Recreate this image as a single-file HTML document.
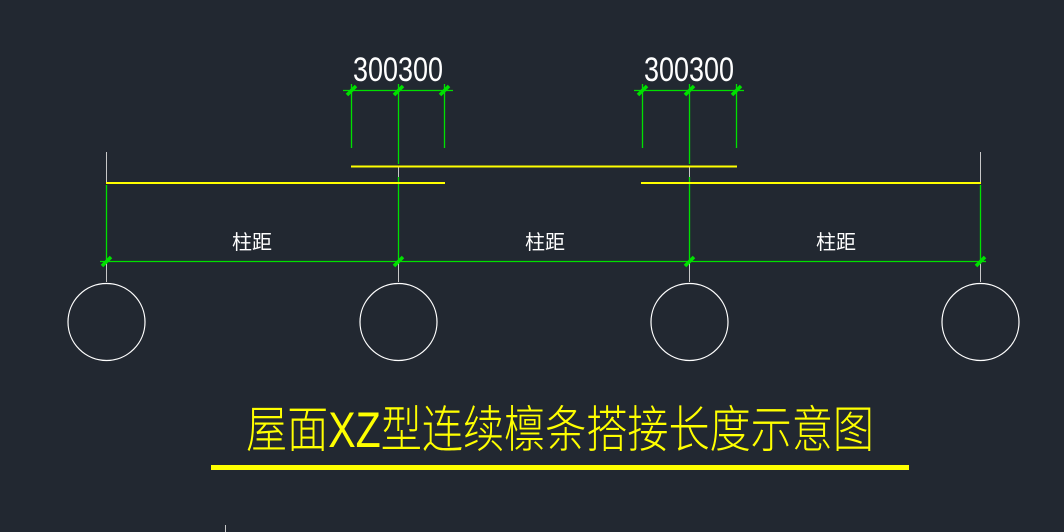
<!DOCTYPE html>
<html><head><meta charset="utf-8"><style>
html,body{margin:0;padding:0;background:#222831;}
svg{display:block}
text{font-family:"Liberation Sans","Noto Sans CJK SC",sans-serif;}
</style></head><body>
<svg width="1064" height="532" viewBox="0 0 1064 532" xmlns="http://www.w3.org/2000/svg">
<rect width="1064" height="532" fill="#222831"/>
<g stroke="#c8c8c8" stroke-width="1">
<line x1="106.5" y1="152" x2="106.5" y2="183"/>
<line x1="980.5" y1="152" x2="980.5" y2="183"/>
<line x1="398.5" y1="166" x2="398.5" y2="177"/>
<line x1="689.5" y1="166" x2="689.5" y2="177"/>
<line x1="106.5" y1="261" x2="106.5" y2="282"/>
<line x1="398.5" y1="261" x2="398.5" y2="282"/>
<line x1="689.5" y1="261" x2="689.5" y2="282"/>
<line x1="980.5" y1="261" x2="980.5" y2="282"/>
<line x1="225.5" y1="525" x2="225.5" y2="532"/>
</g>
<g stroke="#00e000" stroke-width="1.3">
<line x1="106.5" y1="185" x2="106.5" y2="261"/>
<line x1="980.5" y1="185" x2="980.5" y2="261"/>
<line x1="398.5" y1="84" x2="398.5" y2="164"/>
<line x1="398.5" y1="177" x2="398.5" y2="261"/>
<line x1="689.5" y1="84" x2="689.5" y2="164"/>
<line x1="689.5" y1="177" x2="689.5" y2="261"/>
<line x1="351.5" y1="84" x2="351.5" y2="148"/>
<line x1="444.5" y1="84" x2="444.5" y2="148"/>
<line x1="642.5" y1="84" x2="642.5" y2="148"/>
<line x1="736.5" y1="84" x2="736.5" y2="148"/>
<line x1="343" y1="90.5" x2="453" y2="90.5"/>
<line x1="634" y1="90.5" x2="744" y2="90.5"/>
<line x1="100" y1="261.5" x2="986" y2="261.5"/>
</g>
<g stroke="#00e000" stroke-width="3.5">
<line x1="347" y1="95" x2="356" y2="86"/><line x1="394" y1="95" x2="403" y2="86"/><line x1="440" y1="95" x2="449" y2="86"/>
<line x1="638" y1="95" x2="647" y2="86"/><line x1="685" y1="95" x2="694" y2="86"/><line x1="732" y1="95" x2="741" y2="86"/>
<line x1="102" y1="266" x2="111" y2="257"/><line x1="394" y1="266" x2="403" y2="257"/><line x1="685" y1="266" x2="694" y2="257"/><line x1="976" y1="266" x2="985" y2="257"/>
</g>
<g stroke="#ffff00" stroke-width="2">
<line x1="351" y1="166.5" x2="737" y2="166.5"/>
<line x1="106" y1="183" x2="445" y2="183"/>
<line x1="641" y1="183" x2="981" y2="183"/>
</g>
<g fill="none" stroke="#ffffff" stroke-width="1.2">
<circle cx="106.5" cy="322" r="38.5"/>
<circle cx="398.5" cy="322" r="38.5"/>
<circle cx="689.5" cy="322" r="38.5"/>
<circle cx="980.5" cy="322" r="38.5"/>
</g>
<g fill="#ffffff" font-size="34" font-weight="300">
<text x="353" y="81" textLength="90" lengthAdjust="spacingAndGlyphs">300300</text>
<text x="644" y="81" textLength="90" lengthAdjust="spacingAndGlyphs">300300</text>
</g>
<g fill="#ffffff" font-size="20" text-anchor="middle">
<text x="252" y="249">柱距</text>
<text x="545" y="249">柱距</text>
<text x="836" y="249">柱距</text>
</g>
<text x="246" y="447" fill="#ffff00" font-size="50" font-weight="300" textLength="628" lengthAdjust="spacingAndGlyphs">屋面XZ型连续檩条搭接长度示意图</text>
<rect x="211" y="465" width="698" height="5" fill="#ffff00"/>
</svg>
</body></html>
